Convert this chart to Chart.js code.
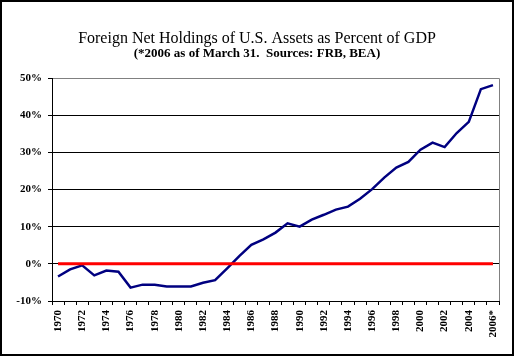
<!DOCTYPE html>
<html>
<head>
<meta charset="utf-8">
<script src="https://cdn.jsdelivr.net/npm/chart.js@4/dist/chart.umd.min.js"></script>
<style>
  html, body { margin: 0; padding: 0; background: #fff; }
  #wrap { width: 514px; height: 356px; }
</style>
</head>
<body>
<div id="wrap"><canvas id="c" width="514" height="356"></canvas></div>
<script>
const years = ['1970','1971','1972','1973','1974','1975','1976','1977','1978','1979',
  '1980','1981','1982','1983','1984','1985','1986','1987','1988','1989',
  '1990','1991','1992','1993','1994','1995','1996','1997','1998','1999',
  '2000','2001','2002','2003','2004','2005','2006*'];
const foreignNetHoldingsPct = [-3.4,-1.5,-0.4,-3.1,-1.8,-2.1,-6.4,-5.6,-5.6,-6.1,
  -6.1,-6.1,-5.1,-4.4,-1.2,2.1,5.1,6.6,8.4,10.9,
  10.0,11.9,13.2,14.6,15.4,17.5,20.1,23.2,25.9,27.4,
  30.7,32.6,31.4,35.2,38.2,47.0,48.1];
const zeroLineYears = ['1970','2006*'];
const zeroLineValues = [0, 0];
const yTicks = [-10, 0, 10, 20, 30, 40, 50];

const titleText = 'Foreign Net Holdings of U.S. Assets as Percent of GDP';
const subtitleText = '(*2006 as of March 31.  Sources: FRB, BEA)';

const FONT = "'Liberation Serif', 'Times New Roman', serif";

const framePlugin = {
  id: 'frame',
  beforeDraw(chart) {
    const ctx = chart.ctx;
    const a = chart.chartArea;
    ctx.save();
    ctx.fillStyle = '#fff';
    ctx.fillRect(0, 0, chart.width, chart.height);
    ctx.strokeStyle = '#808080';
    ctx.lineWidth = 1;
    ctx.beginPath();
    ctx.moveTo(a.left, Math.round(a.top) + 0.5);
    ctx.lineTo(Math.round(a.right) + 0.5, Math.round(a.top) + 0.5);
    ctx.lineTo(Math.round(a.right) + 0.5, a.bottom);
    ctx.stroke();
    ctx.restore();
  },
  afterDraw(chart) {
    const ctx = chart.ctx;
    ctx.save();
    ctx.strokeStyle = '#000';
    ctx.lineWidth = 2;
    ctx.strokeRect(1, 1, chart.width - 2, chart.height - 2);
    ctx.restore();
  }
};

new Chart(document.getElementById('c'), {
  type: 'line',
  data: {
    labels: years,
    datasets: [
      {
        label: 'Foreign net holdings',
        data: foreignNetHoldingsPct,
        borderColor: '#000080',
        borderWidth: 2.5,
        pointRadius: 0,
        tension: 0,
        fill: false,
        order: 2
      },
      {
        label: 'Zero',
        data: zeroLineYears.map((y, i) => ({ x: y, y: zeroLineValues[i] })),
        borderColor: '#ff0000',
        borderWidth: 3,
        pointRadius: 0,
        tension: 0,
        fill: false,
        order: 1
      }
    ]
  },
  options: {
    responsive: false,
    animation: false,
    devicePixelRatio: 1,
    layout: { padding: { left: 15, right: 15, top: 0, bottom: 0 } },
    plugins: {
      legend: { display: false },
      tooltip: { enabled: false },
      title: {
        display: true,
        text: titleText,
        color: '#000',
        font: { family: FONT, size: 16, weight: 'normal', lineHeight: 0.8 },
        padding: { top: 32, bottom: 0 }
      },
      subtitle: {
        display: true,
        text: subtitleText,
        color: '#000',
        font: { family: FONT, size: 13, weight: 'bold', lineHeight: 1 },
        padding: { top: 2.5, bottom: 17.7 }
      }
    },
    scales: {
      x: {
        type: 'category',
        offset: true,
        afterFit(scale) { scale.height = 55; },
        grid: {
          offset: true,
          drawOnChartArea: false,
          drawTicks: true,
          tickLength: 4,
          color: '#000',
          lineWidth: 1
        },
        border: { display: true, color: '#000', width: 1 },
        ticks: {
          autoSkip: false,
          maxRotation: 90,
          minRotation: 90,
          padding: 5,
          color: '#000',
          font: { family: FONT, size: 11, weight: 'bold' },
          callback(value, index) { return index % 2 === 0 ? years[index] : ''; }
        }
      },
      y: {
        min: -10,
        max: 50,
        afterFit(scale) { scale.width = 37; },
        afterBuildTicks(scale) { scale.ticks = yTicks.map(v => ({ value: v })); },
        grid: {
          drawTicks: true,
          tickLength: 4,
          color(ctx) { return ctx.tick && ctx.tick.value === 50 ? '#808080' : '#000'; },
          tickColor: '#000',
          lineWidth: 1
        },
        border: { display: true, color: '#000', width: 1 },
        ticks: {
          padding: 6,
          color: '#000',
          font: { family: FONT, size: 11, weight: 'bold' },
          callback(v) { return v + '%'; }
        }
      }
    }
  },
  plugins: [framePlugin]
});
</script>
</body>
</html>
